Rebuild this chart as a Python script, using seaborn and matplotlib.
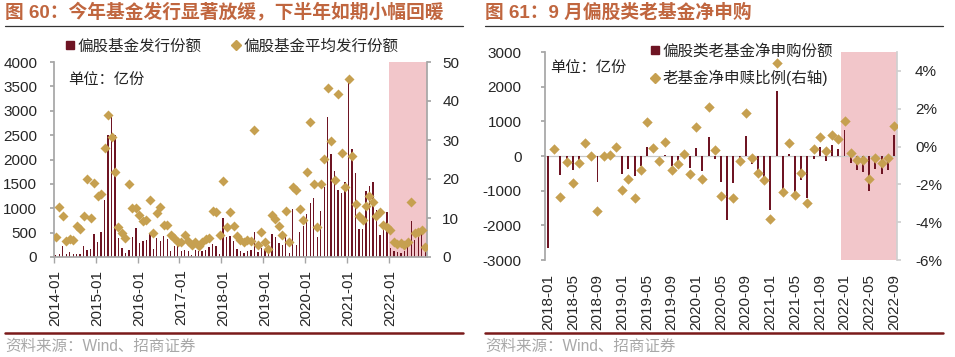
import numpy as np
import pandas as pd
import matplotlib
matplotlib.use("Agg")
import matplotlib.pyplot as plt
from matplotlib.lines import Line2D
import seaborn as sns

# ---------------- data: left chart (monthly, 2014-01 .. 2022-11) ----------------
issue_2014 = [40, 65, 219, 62, 103, 62, 62, 62, 219, 137, 164, 475]
issue_2015 = [300, 517, 1170, 2500, 2900, 2500, 390, 190, 82, 150, 418, 600]
issue_2016 = [288, 322, 356, 479, 164, 390, 322, 425, 370, 116, 233, 219]
issue_2017 = [116, 150, 116, 48, 150, 116, 116, 150, 205, 267, 219, 62]
issue_2018 = [801, 411, 440, 330, 160, 116, 82, 116, 150, 506, 96, 185]
issue_2019 = [150, 185, 472, 403, 287, 253, 403, 82, 985, 253, 506, 629]
issue_2020 = [889, 1108, 1210, 410, 937, 1429, 2865, 2113, 1771, 1381, 1313, 1538]
issue_2021 = [3651, 2222, 1723, 574, 574, 1347, 1450, 1532, 971, 458, 663, 916]
issue_2022 = [180, 130, 110, 80, 130, 220, 745, 340, 480, 560, 160]

avg_2014 = [5.1, 12.7, 10.6, 4.0, 4.6, 4.3, 8.0, 7.3, 10.4, 20.0, 10.0, 19.1]
avg_2015 = [15.7, 16.2, 27.9, 36.4, 30.8, 21.8, 7.7, 6.2, 4.9, 18.6, 12.6, 12.6]
avg_2016 = [10.7, 9.3, 9.6, 14.5, 6.2, 11.3, 12.9, 8.3, 8.1, 5.7, 4.8, 3.8]
avg_2017 = [3.8, 5.7, 4.0, 3.2, 3.8, 2.7, 3.8, 4.6, 4.9, 11.7, 11.5, 5.6]
avg_2018 = [19.6, 7.6, 11.5, 7.9, 5.3, 4.4, 3.8, 4.4, 4.0, 32.5, 3.2, 6.3]
avg_2019 = [3.8, 2.1, 10.7, 9.7, 7.9, 5.7, 11.8, 3.8, 18.0, 17.1, 12.4, 9.4]
avg_2020 = [21.8, 34.7, 18.6, 7.7, 18.6, 25.1, 43.3, 29.8, 19.8, 41.7, 26.7, 17.9]
avg_2021 = [45.6, 25.8, 13.6, 10.4, 9.4, 13.0, 15.6, 14.1, 10.4, 11.5, 8.1, 7.6]
avg_2022 = [7.0, 3.8, 3.4, 3.6, 3.2, 3.8, 14.0, 6.2, 6.3, 7.0, 2.6]

left_months = list(pd.period_range("2014-01", "2022-11", freq="M").strftime("%Y-%m"))
left_tick_labels = ["2014-01", "2015-01", "2016-01", "2017-01", "2018-01",
                    "2019-01", "2020-01", "2021-01", "2022-01"]

# ---------------- data: right chart (monthly, 2018-01 .. 2022-09) ----------------
net_sub = [-2640, 0, -558, -135, -413, -135, 0, 0, -750, 0, 0, 0,
           -510, -375, -587, -279, 260, 0, 0, 30, -279, -154, 0, -346,
           231, -442, 539, -77, -750, -1856, -779, -154, 567, -230, -442, -615,
           -1548, 1865, -1067, 67, -1115, -702, -1212, -77, 260, -154, 327, 212,
           760, -202, -413, -462, -1019, -375, -510, -394, 596]
net_ratio = [np.nan, -0.11, -2.65, -0.81, -1.94, -0.85, 0.18, -0.49, -3.40, -0.49, -0.44, -0.05,
             -2.31, -1.69, -2.73, -1.23, 1.29, -0.09, -0.76, 0.25, -1.23, -0.90, -0.41, -1.46,
             1.04, -1.73, 2.10, -0.18, -2.61, np.nan, -2.73, -0.76, 1.80, -0.63, -1.38, -1.76,
             -3.83, 4.44, -2.43, 0.18, -2.54, -1.41, -2.96, -0.14, 0.53, -0.26, 0.62, 0.39,
             1.36, -0.32, -0.69, -0.72, -1.72, -0.62, -0.85, -0.63, 1.08]
right_months = list(pd.period_range("2018-01", "2022-09", freq="M").strftime("%Y-%m"))
right_tick_labels = right_months[::4]

# ---------------- style ----------------
BAR = "#6E1423"
GOLD = "#C6A050"
PINK = "#F2C6CA"
GREY = "#A6A6A6"
TITLE_C = "#C0663F"
FS = 11

sns.set_theme(style="white")
plt.rcParams["font.family"] = ["Liberation Sans", "Noto Sans CJK SC"]
plt.rcParams["axes.unicode_minus"] = False

W, H = 955, 357
fig = plt.figure(figsize=(W / 100, H / 100), dpi=100)


def fx(px):
    return px / W


def fy(py):
    return 1 - py / H


def style_axis(ax, ax2, right_spine_color, lpad, rpad):
    for s in ["top", "right"]:
        ax.spines[s].set_visible(False)
    for s in ["top", "left", "bottom"]:
        ax2.spines[s].set_visible(False)
    ax.spines["left"].set_color(GREY)
    ax.spines["bottom"].set_color(GREY)
    ax2.spines["right"].set_color(right_spine_color)
    ax.tick_params(axis="y", left=True, length=3, color=GREY, labelsize=FS, pad=lpad)
    ax2.tick_params(axis="y", right=True, length=3, color=right_spine_color,
                    labelsize=FS, pad=rpad)
    ax.set_xlabel("")
    ax.set_ylabel("")
    ax2.set_ylabel("")


# ================= left chart =================
nL = len(left_months)
idxL = np.arange(nL)
issue = issue_2014 + issue_2015 + issue_2016 + issue_2017 + issue_2018 + \
    issue_2019 + issue_2020 + issue_2021 + issue_2022
avg = avg_2014 + avg_2015 + avg_2016 + avg_2017 + avg_2018 + \
    avg_2019 + avg_2020 + avg_2021 + avg_2022
dfL = pd.DataFrame({"pos": idxL, "month": left_months, "issue": issue, "avg": avg})

axL = fig.add_axes([fx(54), fy(257), fx(373), 195 / H])
axL.axvspan(left_months.index("2022-01") - 0.5, nL - 0.5, color=PINK, lw=0, zorder=0)
sns.barplot(data=dfL, x="pos", y="issue", native_scale=True, width=0.38,
            color=BAR, saturation=1, linewidth=0, ax=axL, zorder=2)
axL.set_ylim(0, 4000)
axL.set_yticks(np.arange(0, 4001, 500))
axL.set_xlim(-0.5, nL - 0.5)

axL2 = axL.twinx()
sns.scatterplot(data=dfL, x="pos", y="avg", marker="D", s=26, color=GOLD,
                edgecolor=GOLD, linewidth=0, ax=axL2, zorder=3, legend=False)
axL2.set_ylim(0, 50)
axL2.set_yticks(np.arange(0, 51, 10))
axL2.set_xlim(-0.5, nL - 0.5)

tick_pos_L = [left_months.index(t) for t in left_tick_labels]
axL.set_xticks(tick_pos_L)
axL.set_xticklabels(left_tick_labels, rotation=90, fontsize=FS)
axL.set_xticks([p - 0.5 for p in tick_pos_L], minor=True)
axL.tick_params(axis="x", which="major", bottom=False, length=0, pad=9)
axL.tick_params(axis="x", which="minor", bottom=True, length=4, color=GREY)
style_axis(axL, axL2, GREY, 9, 8)

axL.text(14 / 373, (257 - 80) / 195, "单位：亿份", transform=axL.transAxes,
         fontsize=FS, va="center", ha="left", color="#222222")

hL = [Line2D([], [], marker="s", ls="", color=BAR, markersize=6),
      Line2D([], [], marker="D", ls="", color=GOLD, markersize=5)]
fig.legend(hL, ["偏股基金发行份额", "偏股基金平均发行份额"], loc="center",
           bbox_to_anchor=(fx(231), fy(46)), ncol=2, frameon=False, fontsize=11.2,
           handletextpad=0.1, columnspacing=1.8, handlelength=0.8)

# ================= right chart =================
nR = len(right_months)
idxR = np.arange(nR)
dfR = pd.DataFrame({"pos": idxR, "month": right_months, "net": net_sub, "ratio": net_ratio})

axR = fig.add_axes([fx(545), fy(260), fx(352), 208 / H])
axR.axvspan(right_months.index("2022-01") - 0.5, nR - 0.5, color=PINK, lw=0, zorder=0)
axR.axhline(0, color="#C8C8C8", lw=0.9, zorder=1)
sns.barplot(data=dfR, x="pos", y="net", native_scale=True, width=0.32,
            color=BAR, saturation=1, linewidth=0, ax=axR, zorder=2)
axR.set_ylim(-3000, 3000)
axR.set_yticks(np.arange(-3000, 3001, 1000))
axR.set_xlim(-0.5, nR - 0.5)

axR2 = axR.twinx()
sns.scatterplot(data=dfR, x="pos", y="ratio", marker="D", s=28, color=GOLD,
                edgecolor=GOLD, linewidth=0, ax=axR2, zorder=3, legend=False)
axR2.set_ylim(-6, 5)
axR2.set_yticks(np.arange(-6, 5, 2))
axR2.set_yticklabels([f"{v}%" for v in range(-6, 5, 2)])
axR2.set_xlim(-0.5, nR - 0.5)

tick_pos_R = [right_months.index(t) for t in right_tick_labels]
axR.set_xticks(tick_pos_R)
axR.set_xticklabels(right_tick_labels, rotation=90, fontsize=FS)
axR.tick_params(axis="x", bottom=False, length=0, pad=10)
style_axis(axR, axR2, "#D0D0D0", 14, 10)
axR.spines["bottom"].set_visible(False)

axR.text(5 / 352, (260 - 68) / 208, "单位：亿份", transform=axR.transAxes,
         fontsize=FS, va="center", ha="left", color="#222222")

hR = [Line2D([], [], marker="s", ls="", color=BAR, markersize=6),
      Line2D([], [], marker="D", ls="", color=GOLD, markersize=5)]
fig.legend(hR, ["偏股类老基金净申购份额", "老基金净申赎比例(右轴)"], loc="upper left",
           bbox_to_anchor=(fx(641), fy(36)), ncol=1, frameon=False, fontsize=11.2,
           handletextpad=0.1, labelspacing=0.7, handlelength=0.8, borderpad=0)

# ================= titles, rules, sources =================
fig.text(fx(5), fy(13), "图 60：今年基金发行显著放缓，下半年如期小幅回暖",
         fontsize=13.5, fontweight="bold", color=TITLE_C, va="center", ha="left")
fig.text(fx(485), fy(13), "图 61：9 月偏股类老基金净申购",
         fontsize=13.5, fontweight="bold", color=TITLE_C, va="center", ha="left")
for x0, x1 in [(5, 463), (485, 943)]:
    fig.add_artist(Line2D([fx(x0), fx(x1)], [fy(25.5), fy(25.5)], color="#333333",
                          lw=0.9, transform=fig.transFigure))
    fig.add_artist(Line2D([fx(x0), fx(x1)], [fy(333), fy(333)], color="#7A1A1A",
                          lw=1.8, transform=fig.transFigure))
fig.text(fx(5), fy(346), "资料来源：Wind、招商证券", fontsize=11.2, color="#A8A8A8",
         va="center", ha="left")
fig.text(fx(485), fy(346), "资料来源：Wind、招商证券", fontsize=11.2, color="#A8A8A8",
         va="center", ha="left")

fig.savefig("out.png", dpi=100)
